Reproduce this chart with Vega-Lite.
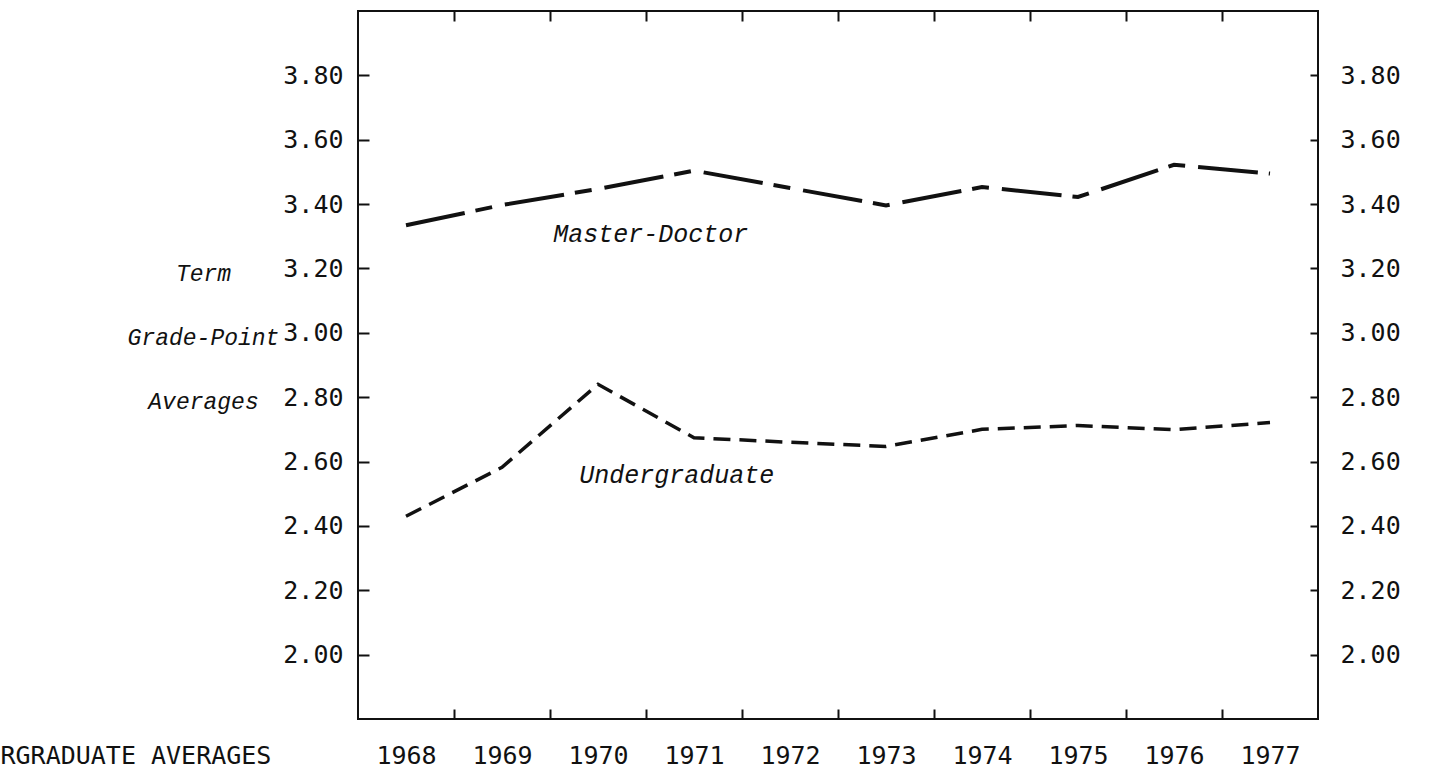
{
  "$schema": "https://vega.github.io/schema/vega-lite/v6.json",
  "width": 960,
  "height": 708,
  "autosize": "none",
  "padding": {"left": 358, "top": 11, "right": 113, "bottom": 50},
  "background": "white",
  "config": {
    "view": {"stroke": "#111", "strokeWidth": 2},
    "axis": {
      "domain": false,
      "grid": false,
      "labelFont": "DejaVu Sans Mono",
      "labelFontSize": 25,
      "labelColor": "#111",
      "tickColor": "#111",
      "tickWidth": 2,
      "labelOverlap": false,
      "labelFlush": false
    }
  },
  "datasets": {
    "series": [
      {"series": "Master-Doctor", "year": 1968, "gpa": 3.334},
      {"series": "Master-Doctor", "year": 1969, "gpa": 3.397},
      {"series": "Master-Doctor", "year": 1970, "gpa": 3.447},
      {"series": "Master-Doctor", "year": 1971, "gpa": 3.504},
      {"series": "Master-Doctor", "year": 1972, "gpa": 3.45},
      {"series": "Master-Doctor", "year": 1973, "gpa": 3.396},
      {"series": "Master-Doctor", "year": 1974, "gpa": 3.453},
      {"series": "Master-Doctor", "year": 1975, "gpa": 3.422},
      {"series": "Master-Doctor", "year": 1976, "gpa": 3.522},
      {"series": "Master-Doctor", "year": 1977, "gpa": 3.495},
      {"series": "Undergraduate", "year": 1968, "gpa": 2.43},
      {"series": "Undergraduate", "year": 1969, "gpa": 2.582},
      {"series": "Undergraduate", "year": 1970, "gpa": 2.84},
      {"series": "Undergraduate", "year": 1971, "gpa": 2.674},
      {"series": "Undergraduate", "year": 1972, "gpa": 2.66},
      {"series": "Undergraduate", "year": 1973, "gpa": 2.647},
      {"series": "Undergraduate", "year": 1974, "gpa": 2.7},
      {"series": "Undergraduate", "year": 1975, "gpa": 2.712},
      {"series": "Undergraduate", "year": 1976, "gpa": 2.699},
      {"series": "Undergraduate", "year": 1977, "gpa": 2.721}
    ],
    "labels": [
      {"label": "Master-Doctor", "year": 1970.55, "gpa": 3.307},
      {"label": "Undergraduate", "year": 1970.82, "gpa": 2.558}
    ]
  },
  "layer": [
    {
      "data": {"name": "series"},
      "transform": [{"filter": "datum.series === 'Master-Doctor'"}],
      "mark": {"type": "line", "color": "#111", "strokeWidth": 4, "strokeDash": [60, 11, 17, 13], "clip": true},
      "encoding": {
        "x": {
          "field": "year",
          "type": "quantitative",
          "scale": {"domain": [1967.5, 1977.5], "nice": false, "zero": false},
          "axis": {
            "orient": "bottom",
            "offset": -10,
            "values": [1968, 1968.5, 1969, 1969.5, 1970, 1970.5, 1971, 1971.5, 1972, 1972.5, 1973, 1973.5, 1974, 1974.5, 1975, 1975.5, 1976, 1976.5, 1977],
            "labelExpr": "datum.value % 1 === 0 ? format(datum.value, 'd') : ''",
            "tickOpacity": {"condition": {"test": "datum.value % 1 === 0", "value": 0}, "value": 1},
            "tickSize": 10,
            "labelPadding": 24,
            "labelBaseline": "top",
            "title": "RGRADUATE AVERAGES",
            "titleAngle": 0,
            "titleX": -358,
            "titleY": 34,
            "titleAlign": "left",
            "titleBaseline": "top",
            "titleFont": "DejaVu Sans Mono",
            "titleFontSize": 25,
            "titleFontWeight": "normal",
            "titleColor": "#111"
          }
        },
        "y": {
          "field": "gpa",
          "type": "quantitative",
          "scale": {"domain": [1.8, 4.0], "nice": false, "zero": false},
          "axis": {
            "orient": "left",
            "offset": -11,
            "values": [2.0, 2.2, 2.4, 2.6, 2.8, 3.0, 3.2, 3.4, 3.6, 3.8],
            "format": ".2f",
            "tickSize": 11,
            "labelPadding": 15,
            "labelBaseline": "middle",
            "title": ["Term", "Grade-Point", "Averages"],
            "titleAngle": 0,
            "titleX": -166,
            "titleY": 262,
            "titleAlign": "center",
            "titleBaseline": "middle",
            "titleLineHeight": 64,
            "titleFont": "Liberation Mono",
            "titleFontStyle": "italic",
            "titleFontSize": 23,
            "titleFontWeight": "normal",
            "titleColor": "#111"
          }
        }
      }
    },
    {
      "data": {"name": "series"},
      "transform": [{"filter": "datum.series === 'Undergraduate'"}],
      "mark": {"type": "line", "color": "#111", "strokeWidth": 3.5, "strokeDash": [17, 9], "clip": true},
      "encoding": {
        "x": {
          "field": "year",
          "type": "quantitative",
          "axis": {
            "orient": "top",
            "offset": -10,
            "values": [1968.5, 1969.5, 1970.5, 1971.5, 1972.5, 1973.5, 1974.5, 1975.5, 1976.5],
            "labels": false,
            "tickSize": 10,
            "title": null
          }
        },
        "y": {
          "field": "gpa",
          "type": "quantitative",
          "axis": {
            "orient": "right",
            "offset": -8,
            "values": [2.0, 2.2, 2.4, 2.6, 2.8, 3.0, 3.2, 3.4, 3.6, 3.8],
            "format": ".2f",
            "tickSize": 8,
            "labelPadding": 22,
            "labelBaseline": "middle",
            "title": null
          }
        }
      }
    },
    {
      "data": {"name": "labels"},
      "mark": {"type": "text", "font": "Liberation Mono", "fontStyle": "italic", "fontSize": 25, "color": "#111", "align": "center", "baseline": "middle"},
      "encoding": {
        "x": {"field": "year", "type": "quantitative", "axis": null},
        "y": {"field": "gpa", "type": "quantitative", "axis": null},
        "text": {"field": "label"}
      }
    }
  ],
  "resolve": {"axis": {"x": "independent", "y": "independent"}}
}
